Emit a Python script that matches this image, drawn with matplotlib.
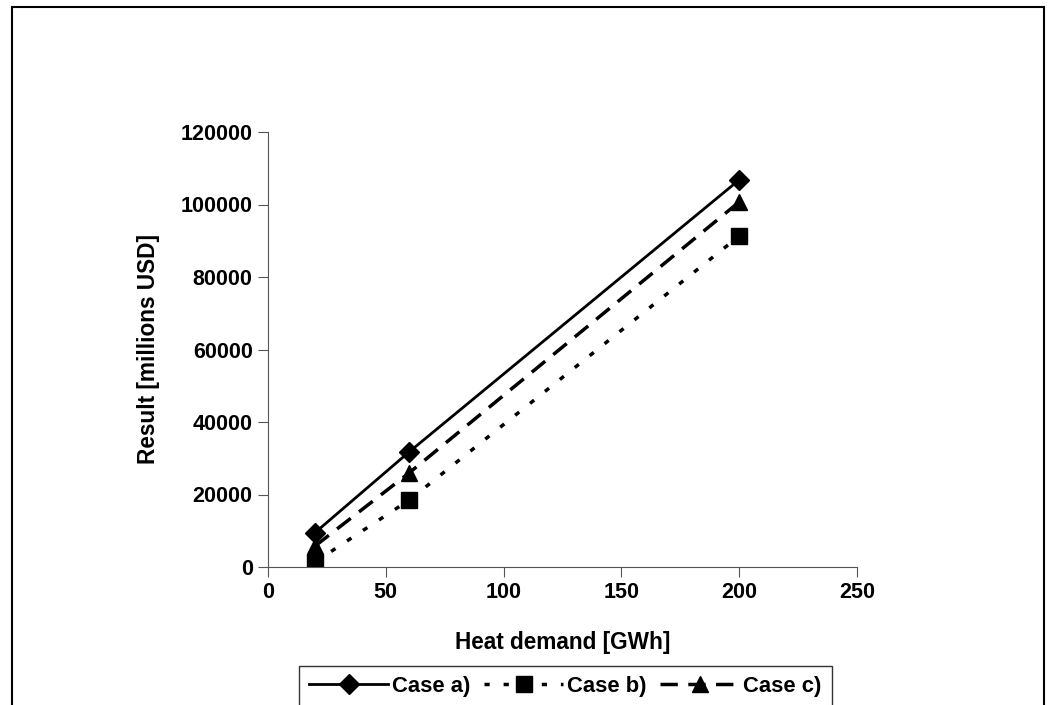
import matplotlib.pyplot as plt
from matplotlib.patches import Rectangle

plt.rcParams['font.family'] = ['Liberation Sans', 'DejaVu Sans']
plt.rcParams['font.weight'] = 'bold'

heat_demand = [20, 60, 200]
case_a = [9500, 31800, 106800]
case_b = [1400, 18500, 91300]
case_c = [5800, 26000, 100700]
labels = ['Case a)', 'Case b)', 'Case c)']

fig = plt.figure(figsize=(10.49, 7.05), dpi=100)
ax = fig.add_axes([268 / 1049, 1 - 567 / 705, (857 - 268) / 1049, (567 - 132) / 705])

# outer chart frame (runs off the bottom edge like the original)
fig.patches.append(Rectangle((12 / 1049, -0.05), (1044 - 12) / 1049, 1 - 7 / 705 + 0.05,
                             transform=fig.transFigure, fill=False, edgecolor='black',
                             linewidth=1.5))

ax.plot(heat_demand, case_a, color='black', linestyle='-', linewidth=2,
        marker='D', markersize=10, label=labels[0])
ax.plot(heat_demand, case_b, color='black', linestyle=(0, (1.5, 4)), linewidth=2.5,
        marker='s', markersize=11, label=labels[1])
ax.plot(heat_demand, case_c, color='black', linestyle=(0, (5, 3)), linewidth=2.5,
        marker='^', markersize=12, label=labels[2])

ax.set_xlim(0, 250)
ax.set_ylim(0, 120000)
ax.set_xticks([0, 50, 100, 150, 200, 250])
ax.set_yticks(range(0, 120001, 20000))
ax.spines['top'].set_visible(False)
ax.spines['right'].set_visible(False)
for side in ['left', 'bottom']:
    ax.spines[side].set_color('#555555')
ax.tick_params(direction='out', length=7, color='#555555', labelsize=15.5, pad=4)
for t in ax.get_xticklabels() + ax.get_yticklabels():
    t.set_fontweight('bold')

ax.set_xlabel('Heat demand [GWh]', fontsize=16.3, fontweight='bold', labelpad=20)
ax.set_ylabel('Result [millions USD]', fontsize=16.3, fontweight='bold', labelpad=15)

leg = ax.legend(loc='upper center', bbox_to_anchor=(0.505, -0.2276), ncol=3,
                frameon=True, fancybox=False, fontsize=15.8, handlelength=3.6,
                columnspacing=0.6, handletextpad=0.2, borderpad=0.45,
                borderaxespad=0)
leg.get_frame().set_edgecolor('black')
leg.get_frame().set_linewidth(1)
for t in leg.get_texts():
    t.set_fontweight('bold')

fig.savefig('out.png', dpi=100)
